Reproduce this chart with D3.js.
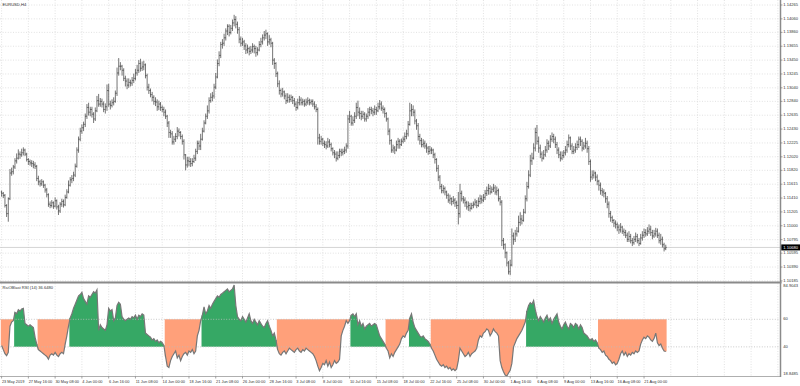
<!DOCTYPE html>
<html lang="en">
<head>
<meta charset="utf-8">
<title>EURUSD,H4</title>
<script src="https://d3js.org/d3.v7.min.js"></script>
<style>
  body { margin: 0; background: #fff; }
  svg { display: block; font-family: "Liberation Sans", Arial, sans-serif; }
</style>
</head>
<body>
<div id="chart"></div>
<script>
// prices are stored in pips above 1.1000 (price = BASE + v * PIP)
const BASE = 1.1, PIP = 0.0001
const firstOpen = 150

const closePips = [
  148,145,130,118,140,178, 180,187,196,200,206,205, 208,212,206,198,195,193, 192,190,188,170,165,162,
  165,160,153,146,132,130, 134,129,137,128,122,132, 136,131,142,150,160,168, 170,175,188,212,228,240,
  245,250,262,275,268,272, 265,258,270,285,280,284, 280,272,276,300,280,278, 282,284,296,326,336,336,
  330,318,314,308,312,311, 315,318,326,330,340,333, 335,338,322,305,300,294, 290,284,283,276,280,275,
  272,268,262,252,238,236, 224,228,232,240,238,232, 225,205,190,196,195,192, 195,200,210,222,218,228,
  240,252,262,270,285,290, 292,305,320,340,352,368, 370,378,388,395,386,392, 400,405,398,390,376,370,
  372,366,360,362,358,360, 365,362,356,360,368,372, 378,382,384,372,375,370, 345,340,325,310,300,295,
  298,292,285,290,287,290, 285,280,275,282,286,282, 284,280,283,285,282,284, 280,276,272,230,225,228,
  222,220,218,224,220,214, 208,206,200,204,210,208, 210,212,218,258,262,252, 256,262,275,268,266,262,
  265,258,262,268,272,270, 268,272,270,276,280,274, 272,266,258,240,226,212, 215,212,220,225,220,225,
  228,232,236,250,270,272, 268,255,248,232,226,220, 222,218,215,210,212,212, 205,198,185,172,158,152,
  155,150,145,138,140,136, 138,134,130,118,148,140, 138,134,128,130,126,130, 132,135,130,136,140,138,
  142,148,152,155,150,154, 156,150,152,140,135,78, 72,60,45,32,42,85, 80,88,92,105,110,108,
  120,140,158,175,196,200, 215,238,225,215,206,200, 205,212,222,218,228,232, 228,220,212,205,200,204,
  208,212,220,230,218,210, 212,216,220,228,225,215, 218,222,214,195,172,175, 178,172,166,160,152,150,
  148,140,132,118,112,108, 104,102,98,94,98,92, 90,86,80,84,78,75, 80,84,78,74,82,86,
  90,88,92,95,90,85, 88,92,86,78,80,72, 66,68
]
const highPips = [
  152,150,147,132,142,184, 186,190,200,207,213,210, 214,216,214,208,200,198, 197,196,194,190,174,168,
  169,167,162,156,148,136, 138,136,142,139,131,135, 140,139,146,154,167,172, 175,180,192,216,232,245,
  250,254,266,280,282,276, 276,268,275,292,295,289, 288,284,281,309,310,285, 287,290,300,334,348,342,
  338,333,322,318,318,316, 320,325,332,338,345,347, 343,344,340,325,310,303, 298,293,290,287,285,283,
  278,276,272,264,255,242, 240,233,237,246,244,240, 235,228,206,202,202,200, 200,205,214,226,226,236,
  245,256,266,278,290,296, 298,310,326,346,358,372, 376,384,392,398,398,397, 405,412,410,402,394,380,
  378,375,370,368,365,366, 370,368,366,364,373,378, 383,388,390,386,382,378, 372,348,342,328,315,303,
  304,300,296,296,294,294, 292,289,284,288,292,290, 288,287,288,290,288,287, 287,284,280,275,236,233,
  230,226,225,230,228,223, 216,212,210,210,214,214, 214,217,222,264,270,264, 262,268,282,285,275,270,
  270,268,266,274,276,276, 274,278,276,282,286,284, 278,275,268,260,244,228, 220,218,226,230,228,229,
  232,238,242,255,282,280, 278,272,258,252,236,230, 228,226,222,218,218,216, 214,208,200,190,175,162,
  160,158,152,148,146,142, 144,141,137,150,162,152, 144,142,137,136,134,134, 136,140,138,142,146,145,
  147,153,158,162,160,158, 162,160,158,155,144,138, 82,74,62,48,50,96, 90,94,98,115,120,116,
  125,145,165,182,205,208, 222,245,249,232,220,210, 212,218,228,226,234,238, 236,232,224,216,210,210,
  212,218,226,235,232,222, 218,222,226,232,232,228, 224,230,226,218,198,182, 182,180,176,168,164,156,
  154,150,144,136,122,115, 110,108,105,102,104,100, 96,94,90,92,88,82, 85,90,88,82,88,92,
  96,95,98,102,100,94, 94,97,96,90,88,84, 75,72
]
const lowPips = [
  143,141,127,113,106,138, 174,176,184,192,198,199, 202,204,203,195,190,189, 187,185,184,166,160,158,
  159,156,149,142,128,126, 127,125,127,124,116,119, 128,127,129,140,148,158, 163,166,172,186,208,225,
  236,240,246,258,263,262, 260,252,255,268,276,276, 275,268,266,270,276,272, 275,278,282,292,322,330,
  322,314,306,302,304,306, 307,311,315,322,326,328, 329,330,318,300,295,290, 284,279,277,270,271,270,
  268,262,258,246,230,230, 220,220,224,228,232,228, 220,198,182,186,188,187, 188,193,196,206,212,212,
  226,238,250,258,266,282, 284,288,302,318,336,348, 362,366,374,382,380,383, 388,395,392,384,370,365,
  366,360,354,355,352,354, 356,355,350,352,358,364, 368,374,376,366,368,364, 338,332,320,305,294,290,
  291,287,280,282,282,283, 280,276,270,272,278,278, 278,276,277,279,278,279, 276,272,268,220,220,220,
  218,215,213,215,216,210, 204,200,195,197,200,203, 204,206,208,214,252,248, 248,252,258,262,258,256,
  258,254,254,258,262,265, 262,264,264,268,272,270, 266,260,254,234,220,208, 208,206,210,214,214,218,
  222,224,228,232,248,262, 262,250,242,226,220,216, 216,214,208,205,206,206, 200,192,180,166,154,148,
  148,145,140,134,132,130, 132,128,125,102,112,136, 133,128,124,122,121,124, 126,129,126,128,132,133,
  135,138,144,146,146,148, 150,146,145,136,130,70, 65,52,40,28,27,40, 72,76,84,90,100,102,
  106,118,136,155,172,190, 198,210,220,208,200,195, 198,202,208,212,215,224, 222,215,206,200,195,197,
  200,204,208,216,212,206, 206,208,212,215,218,210, 212,214,208,190,165,168, 170,166,160,152,146,144,
  142,134,126,112,106,104, 98,96,92,88,90,88, 85,82,76,76,74,70, 72,76,74,70,72,78,
  82,84,85,88,85,80, 82,84,82,74,72,68, 62,64
]
const rsiValues = [
  41,38,35,33.6,36,55, 58,59,65,64,67,66, 67.5,68,57,56,55,56, 55,54,47,42,38,37,
  36,35,34,33,31,34, 35,34,36,34,33,35, 36,35,42,48,55,61, 64,68,71,74,77,78,
  79.6,75,73,71,77,76, 78,80,79,81.4,52,56, 54,53,52,56,68,66, 67,59,61,70,72.4,71,
  62,60,59,60,61,60, 62,61,63,60,63,62, 64,63,50,49,48,47, 45,46,44,45,43,44,
  43,41,33,26,25,30, 33,35,37,32,34,30, 33,35,36,34,37,36, 38,35,37,48,52,59,
  63,69,64,66,70,68, 71,73,75,77,76,78, 79,80,81,82,80,81, 82,84.9043,70,62,60,59,
  62,60,58,61,64,59, 57,60,58,56,59,57, 55,54,57,59,55,52, 48,50,45,38,35,34,
  36,37,35,37,39,38, 37,36,38,39,37,36, 38,37,39,38,37,36, 35,33,30,26,22.7,25,
  28,27,30,26,29,25, 27,30,28,29,31,48, 52,55,59,57,59,63, 64,62,64,56,59,55,
  57,53,55,56,57,55, 56,57,56,52,48,46, 44,42,39,37,32,35, 33,36,38,40,42,46,
  48,47,50,52,61,64, 58,54,52,50,48,47, 48,46,45,44,42,39, 37,34,31,29,27,26,
  27,25,26,24,25,23, 24,22.7,24,30,39,37, 35,33,34,36,33,35, 36,37,39,45,48,47,
  50,51,53,52,48,50, 53,51,50,48,30,25, 22,19.5,18.8485,21,23,28, 40,43,46,48,50,52,
  55,58,66,70,72,71, 73.6,67,62,59,62,60, 58,61,63,59,61,57, 60,62,64,58,55,53,
  56,58,55,53,57,56, 54,57,56,53,56,54, 50,49,48,46,45,46, 44,45,43,39,38,36,
  37,34,33,31,30,28, 29,27,28,31,35,37, 34,36,33,35,34,36, 35,37,36,37,42,45,
  47,46,48,47,45,44, 46,50,43,41,42,39, 37,36.648
]

const priceTicks = ["1.14265","1.14060","1.13860","1.13655","1.13450","1.13245","1.13040",
  "1.12840","1.12635","1.12430","1.12225","1.12020","1.11820","1.11615","1.11410","1.11205",
  "1.11000","1.10795","1.10595","1.10390","1.10185"]
const rsiTicks = ["84.9043", "60", "40", "18.8485"]
const rsiLevels = [60, 40]
const timeLabels = ["23 May 2019","27 May 16:00","30 May 08:00","4 Jun 00:00","6 Jun 16:00",
  "11 Jun 08:00","14 Jun 00:00","18 Jun 16:00","21 Jun 08:00","26 Jun 00:00","28 Jun 16:00",
  "3 Jul 08:00","8 Jul 00:00","10 Jul 16:00","15 Jul 08:00","18 Jul 00:00","22 Jul 16:00",
  "25 Jul 08:00","30 Jul 00:00","1 Aug 16:00","6 Aug 08:00","9 Aug 00:00","13 Aug 16:00",
  "16 Aug 08:00","21 Aug 00:00"]
const barsPerLabel = 16

const W = 800, H = 386
const plotRight = 780.5
const pricePane = { top: 0, bottom: 281.5 }
const rsiPane = { top: 284, bottom: 376.5 }

const svg = d3.select("#chart").append("svg")
  .attr("width", W).attr("height", H)

svg.append("rect").attr("width", W).attr("height", H).attr("fill", "#fff")

// small text: draw at 10px and scale down (avoids the browser's minimum font size)
function tinyText(g, px, py, str, size, fill) {
  return g.append("text")
    .attr("transform", `translate(${px},${py}) scale(${size / 10})`)
    .attr("font-size", 10).attr("dominant-baseline", "middle")
    .attr("fill", fill || "#333").text(str)
}

const toPrice = v => BASE + v * PIP
const bars = closePips.map((c, i) => ({
  i: i,
  open: toPrice(i === 0 ? firstOpen : closePips[i - 1]),
  high: toPrice(highPips[i]),
  low: toPrice(lowPips[i]),
  close: toPrice(c),
  rsi: rsiValues[i]
}))

const step = 1.673
const nGrid = 464
const x = d3.scaleLinear().domain([0, nGrid]).range([1.6, 1.6 + nGrid * step])

const yPrice = d3.scaleLinear().domain([1.10185, 1.14265]).range([280.9, 5])
const yRsi = d3.scaleLinear().domain([18.8485, 84.9043]).range([376, 285])

const dotted = "1,1.6"

// vertical grid (both panes)
const gridIdx = d3.range(0, nGrid + 1, barsPerLabel)
svg.append("g").selectAll("line").data(gridIdx).join("line")
  .attr("x1", d => x(d)).attr("x2", d => x(d))
  .attr("y1", pricePane.top).attr("y2", rsiPane.bottom)
  .attr("stroke", "#d6d6d6").attr("stroke-width", 0.7)
  .attr("stroke-dasharray", dotted)

// horizontal price grid
svg.append("g").selectAll("line").data(priceTicks).join("line")
  .attr("x1", 0).attr("x2", plotRight)
  .attr("y1", d => yPrice(+d)).attr("y2", d => yPrice(+d))
  .attr("stroke", "#d6d6d6").attr("stroke-width", 0.7)
  .attr("stroke-dasharray", dotted)

// current price line
const last = bars[bars.length - 1]
svg.append("line")
  .attr("x1", 0).attr("x2", plotRight)
  .attr("y1", yPrice(last.close)).attr("y2", yPrice(last.close))
  .attr("stroke", "#c8c8c8").attr("stroke-width", 0.8)

// OHLC bars
const gBars = svg.append("g").attr("stroke", "#2a2a2a").attr("stroke-width", 0.65)
bars.forEach(b => {
  const cx = x(b.i)
  const hi = Math.max(b.high, b.open, b.close)
  const lo = Math.min(b.low, b.open, b.close)
  gBars.append("line").attr("x1", cx).attr("x2", cx)
    .attr("y1", yPrice(hi)).attr("y2", yPrice(lo))
  gBars.append("line").attr("x1", cx - 0.8).attr("x2", cx)
    .attr("y1", yPrice(b.open)).attr("y2", yPrice(b.open))
  gBars.append("line").attr("x1", cx).attr("x2", cx + 0.8)
    .attr("y1", yPrice(b.close)).attr("y2", yPrice(b.close))
})

// RSI fills: bull state after crossing 60, bear state after crossing 40
let state = "bear"
bars.forEach(b => {
  if (b.rsi > 60) state = "bull"
  else if (b.rsi < 40) state = "bear"
  b.state = state
})
const segments = []
bars.forEach(b => {
  const seg = segments[segments.length - 1]
  if (seg && seg.state === b.state) seg.items.push(b)
  else segments.push({ state: b.state, items: [b] })
})

const area = d3.area().x(d => d.x).y0(d => d.y0).y1(d => d.y1)
segments.forEach(seg => {
  const bull = seg.state === "bull"
  const base = bull ? 40 : 60
  const clampR = r => bull ? Math.max(r, 40) : Math.min(r, 60)
  const pts = seg.items.map(b => ({ x: x(b.i), y0: yRsi(base), y1: yRsi(clampR(b.rsi)) }))
  const first = seg.items[0], lastB = seg.items[seg.items.length - 1]
  pts.unshift({ x: x(first.i) - step / 2, y0: yRsi(base), y1: yRsi(clampR(first.rsi)) })
  pts.push({ x: x(lastB.i) + step / 2, y0: yRsi(base), y1: yRsi(clampR(lastB.rsi)) })
  svg.append("path").attr("d", area(pts))
    .attr("fill", bull ? "#36a865" : "#ffa07a")
})

// RSI levels
svg.append("g").selectAll("line").data(rsiLevels).join("line")
  .attr("x1", 0).attr("x2", plotRight)
  .attr("y1", d => yRsi(d)).attr("y2", d => yRsi(d))
  .attr("stroke", "#bdbdbd").attr("stroke-width", 0.8)
  .attr("stroke-dasharray", dotted)

// RSI line
svg.append("path")
  .attr("d", d3.line().x(b => x(b.i)).y(b => yRsi(b.rsi))(bars))
  .attr("fill", "none").attr("stroke", "#777").attr("stroke-width", 1.2)

// pane separator and frame
svg.append("line").attr("x1", 0).attr("x2", plotRight + 1)
  .attr("y1", 282.6).attr("y2", 282.6)
  .attr("stroke", "#8a8a8a").attr("stroke-width", 2)
svg.append("line").attr("x1", 0).attr("x2", plotRight)
  .attr("y1", rsiPane.bottom).attr("y2", rsiPane.bottom)
  .attr("stroke", "#9a9a9a").attr("stroke-width", 0.8)
svg.append("line").attr("x1", plotRight).attr("x2", plotRight)
  .attr("y1", 0).attr("y2", rsiPane.bottom + 0.5)
  .attr("stroke", "#8a8a8a").attr("stroke-width", 1.5)

const fs = 4.1
// price axis labels
const gPy = svg.append("g")
priceTicks.forEach(t => {
  const yy = yPrice(+t)
  gPy.append("line").attr("x1", plotRight).attr("x2", plotRight + 2)
    .attr("y1", yy).attr("y2", yy).attr("stroke", "#666").attr("stroke-width", 0.6)
  tinyText(gPy, plotRight + 2.8, yy, t, fs)
})

// current price marker
const yLast = yPrice(last.close)
svg.append("rect").attr("x", plotRight + 0.8).attr("y", yLast - 3)
  .attr("width", W - plotRight).attr("height", 6).attr("fill", "#000")
tinyText(svg, plotRight + 2.8, yLast, last.close.toFixed(5), fs, "#fff")

// RSI axis labels
rsiTicks.forEach(t => {
  const yy = Math.min(Math.max(yRsi(+t), 286), 374)
  tinyText(svg, plotRight + 2.8, yy, t, fs)
})

// time labels
timeLabels.forEach((t, k) => {
  const xx = x(k * barsPerLabel)
  svg.append("line").attr("x1", xx).attr("x2", xx)
    .attr("y1", rsiPane.bottom).attr("y2", rsiPane.bottom + 2)
    .attr("stroke", "#666").attr("stroke-width", 0.6)
  tinyText(svg, xx + 0.3, 381.5, t, 3.9)
})

// titles
tinyText(svg, 2.5, 4.5, "EURUSD,H4", fs)
tinyText(svg, 2.5, 287.5, "RsiOBlast RSI (14) " + rsiValues[rsiValues.length - 1].toFixed(4), fs)
</script>
</body>
</html>
